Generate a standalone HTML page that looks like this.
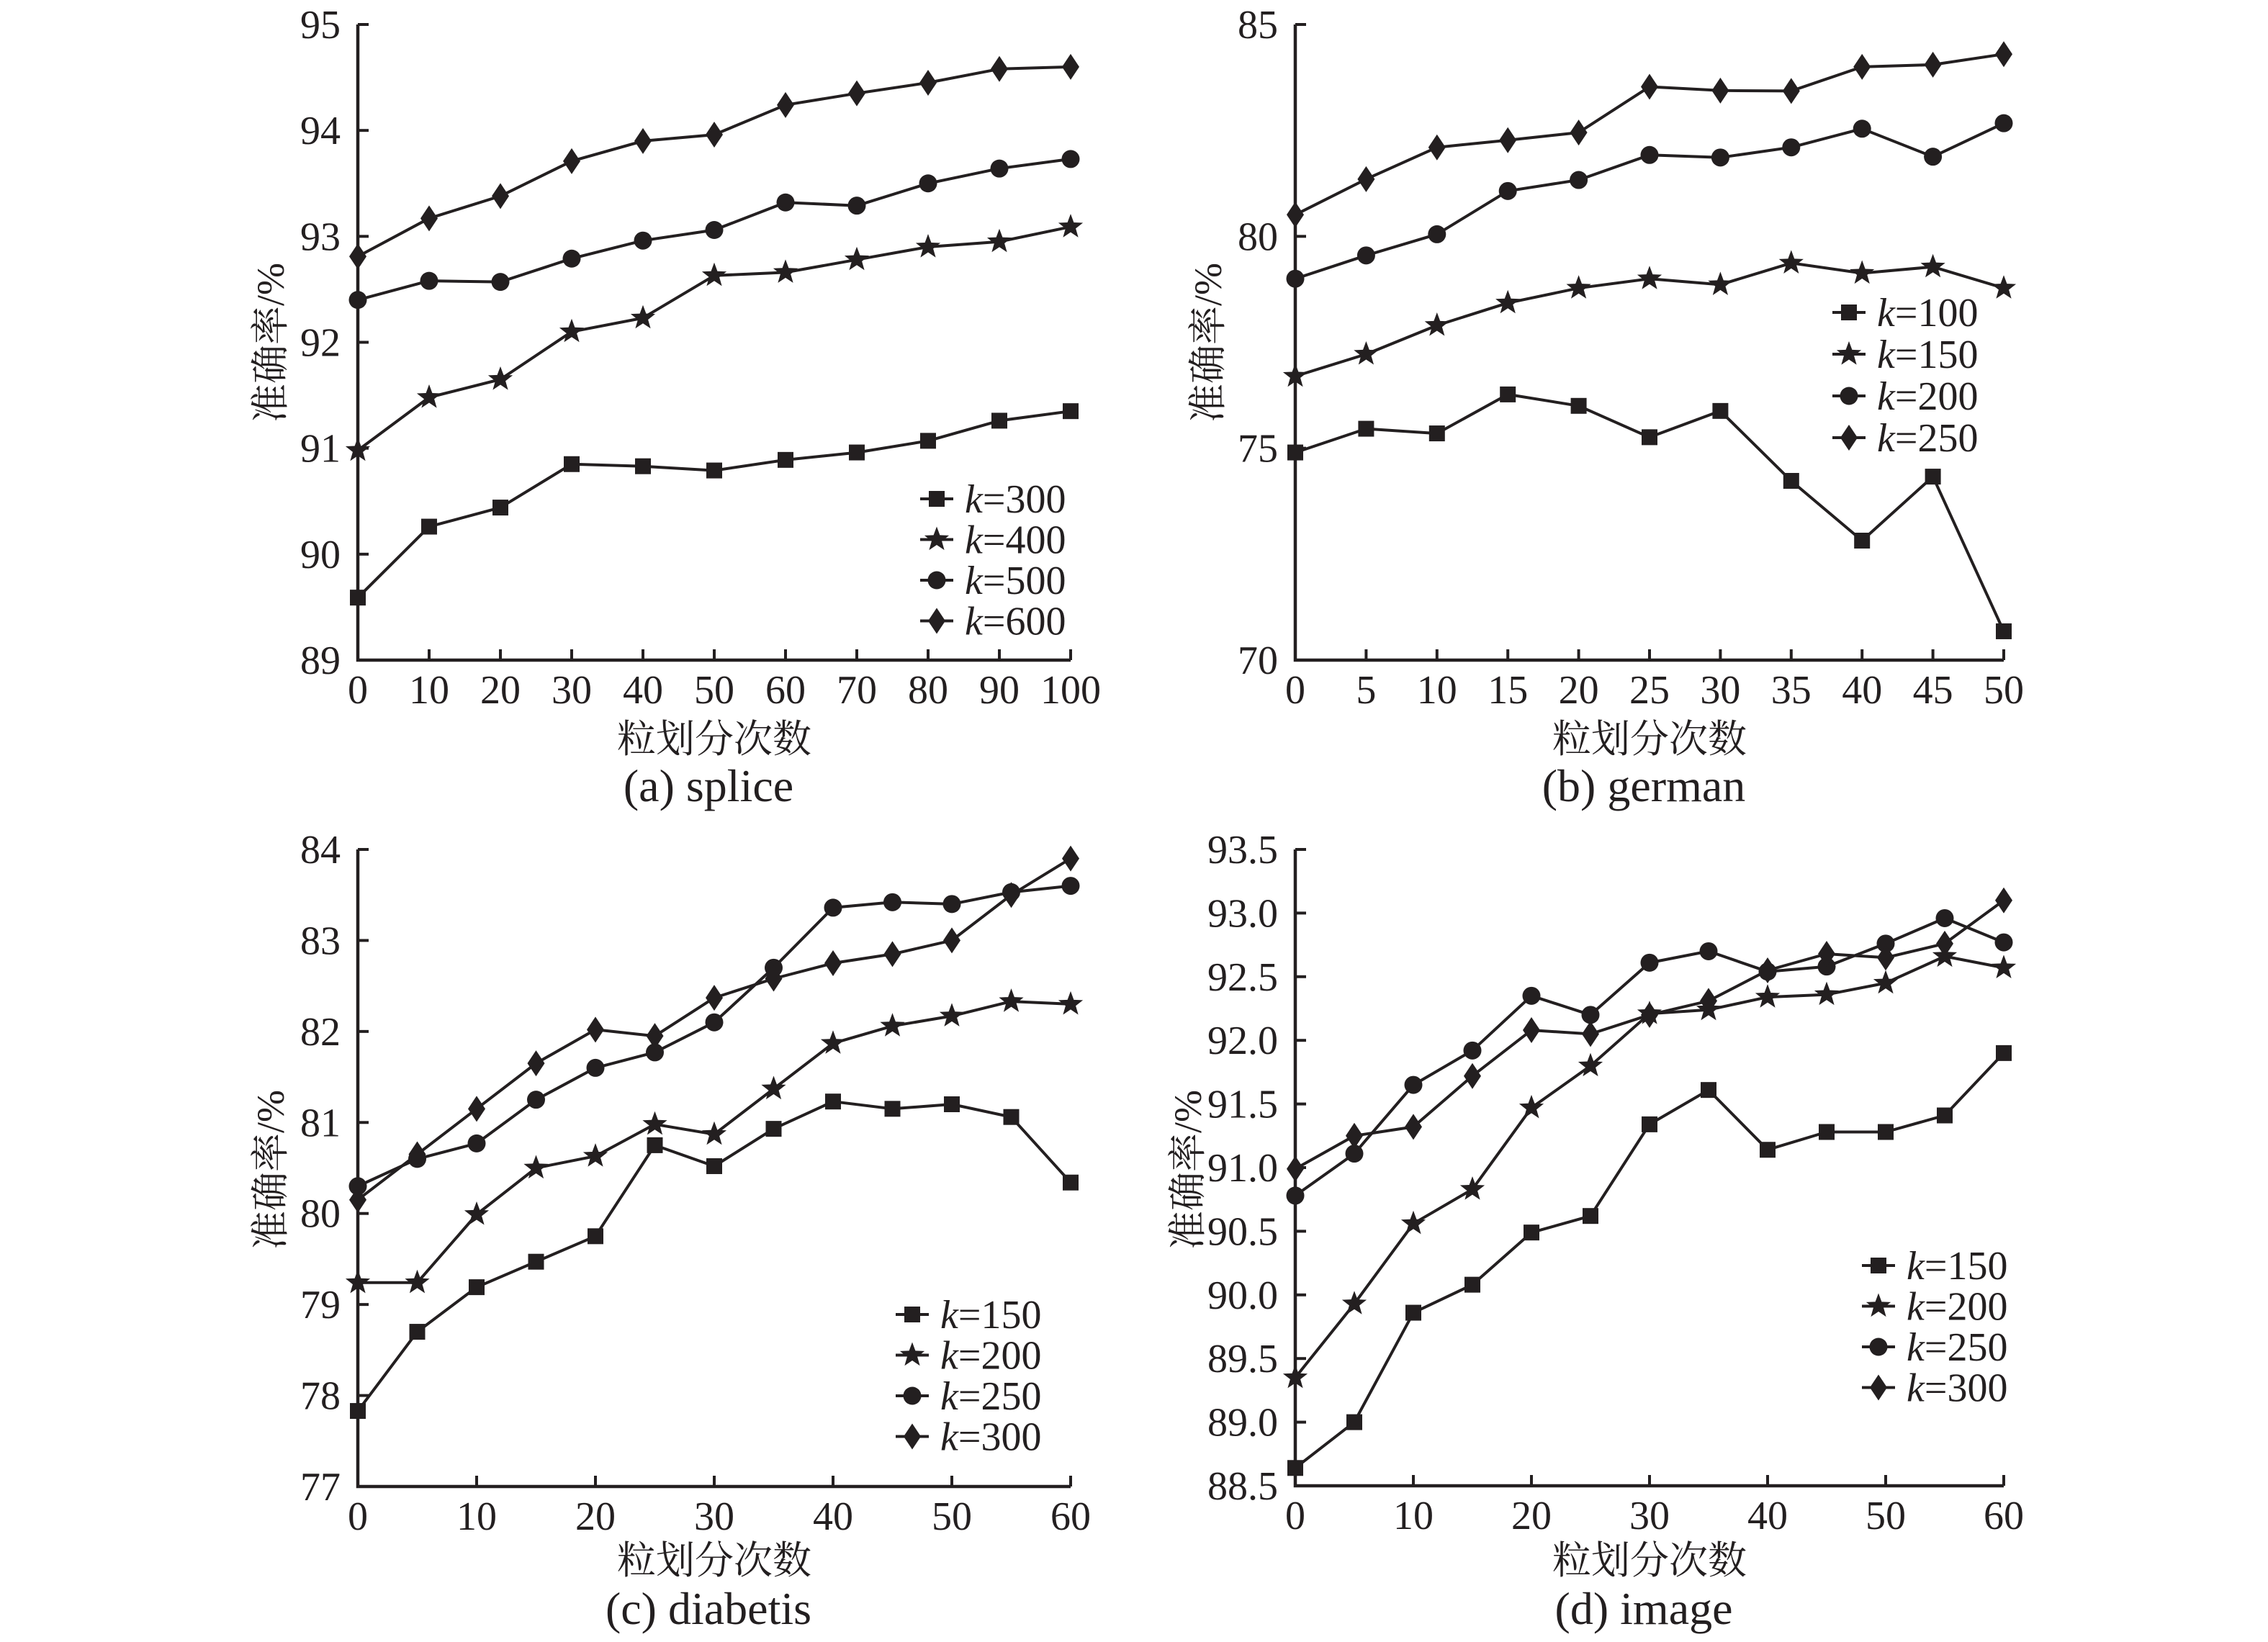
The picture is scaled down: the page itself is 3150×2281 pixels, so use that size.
<!DOCTYPE html>
<html><head><meta charset="utf-8">
<style>
html,body{margin:0;padding:0;background:#fff;}
svg{display:block;}
text{fill:#231f20;}
</style></head>
<body>
<svg id="fig" xmlns="http://www.w3.org/2000/svg" width="3150" height="2281" viewBox="0 0 3150 2281"></svg>
<script>
// ---- panel (a) splice ----
const aX = [0,10,20,30,40,50,60,70,80,90,100];
const aK300 = [89.59,90.26,90.44,90.85,90.83,90.79,90.89,90.96,91.07,91.26,91.35];
const aK400 = [90.98,91.48,91.65,92.10,92.23,92.63,92.66,92.78,92.90,92.95,93.09];
const aK500 = [92.40,92.58,92.57,92.79,92.96,93.06,93.32,93.29,93.50,93.64,93.73];
const aK600 = [92.81,93.17,93.38,93.71,93.90,93.96,94.24,94.35,94.45,94.58,94.60];
const aYTicks = ["89","90","91","92","93","94","95"];
const aXTicks = ["0","10","20","30","40","50","60","70","80","90","100"];
const aLegend = ["300","400","500","600"];
// ---- panel (b) german ----
const bX = [0,5,10,15,20,25,30,35,40,45,50];
const bK100 = [74.90,75.46,75.35,76.27,76.00,75.26,75.88,74.23,72.82,74.33,70.68];
const bK150 = [76.70,77.22,77.90,78.43,78.78,79.00,78.86,79.37,79.13,79.28,78.78];
const bK200 = [79.00,79.55,80.05,81.07,81.33,81.92,81.86,82.10,82.54,81.88,82.67];
const bK250 = [80.51,81.35,82.10,82.27,82.45,83.53,83.44,83.43,84.00,84.05,84.30];
const bYTicks = ["70","75","80","85"];
const bXTicks = ["0","5","10","15","20","25","30","35","40","45","50"];
const bLegend = ["100","150","200","250"];
// ---- panel (c) diabetis ----
const cX = [0,5,10,15,20,25,30,35,40,45,50,55,60];
const cK150 = [77.83,78.70,79.19,79.47,79.75,80.75,80.52,80.93,81.23,81.15,81.20,81.06,80.34];
const cK200 = [79.24,79.24,79.99,80.50,80.63,80.98,80.87,81.37,81.87,82.06,82.17,82.33,82.30];
const cK250 = [80.30,80.60,80.77,81.25,81.60,81.77,82.10,82.70,83.36,83.42,83.40,83.53,83.60];
const cK300 = [80.15,80.65,81.15,81.65,82.02,81.95,82.37,82.58,82.75,82.85,83.00,83.50,83.90];
const cYTicks = ["77","78","79","80","81","82","83","84"];
const cXTicks = ["0","10","20","30","40","50","60"];
const cLegend = ["150","200","250","300"];
// ---- panel (d) image ----
const dX = [0,5,10,15,20,25,30,35,40,45,50,55,60];
const dK150 = [88.64,89.00,89.86,90.08,90.49,90.62,91.34,91.61,91.14,91.28,91.28,91.41,91.90];
const dK200 = [89.35,89.93,90.56,90.83,91.47,91.80,92.21,92.24,92.34,92.36,92.45,92.66,92.57];
const dK250 = [90.78,91.11,91.65,91.92,92.35,92.20,92.61,92.70,92.54,92.58,92.76,92.96,92.77];
const dK300 = [90.99,91.25,91.32,91.72,92.08,92.05,92.20,92.31,92.55,92.68,92.65,92.76,93.10];
const dYTicks = ["88.5","89.0","89.5","90.0","90.5","91.0","91.5","92.0","92.5","93.0","93.5"];
const dXTicks = ["0","10","20","30","40","50","60"];
const dLegend = ["150","200","250","300"];

const NS = "http://www.w3.org/2000/svg";
const svg = document.getElementById('fig');
const INK = "#231f20";
const SERIF = '"Liberation Serif", "Noto Serif CJK SC", serif';
const CJK = '"Liberation Serif", "Noto Serif CJK SC", "Noto Sans CJK SC", serif';

function mk(tag, attrs, parent) {
  const e = document.createElementNS(NS, tag);
  for (const k in attrs) e.setAttribute(k, attrs[k]);
  (parent || svg).appendChild(e);
  return e;
}

function marker(g, type, x, y) {
  let m;
  if (type === 'square') {
    m = mk('rect', {x: x-11, y: y-11, width: 22, height: 22, fill: INK}, g);
  } else if (type === 'circle') {
    m = mk('circle', {cx: x, cy: y, r: 12.5, fill: INK}, g);
  } else if (type === 'diamond') {
    m = mk('polygon', {points: `${x},${y-18} ${x+12},${y} ${x},${y+18} ${x-12},${y}`, fill: INK}, g);
  } else {
    const pts = [];
    for (let i = 0; i < 10; i++) {
      const r = i % 2 === 0 ? 18 : 7.5;
      const a = -Math.PI/2 + i*Math.PI/5;
      pts.push((x + r*Math.cos(a)).toFixed(1) + ',' + (y + r*Math.sin(a)).toFixed(1));
    }
    m = mk('polygon', {points: pts.join(' '), fill: INK}, g);
  }
  
  
}

function panel(cfg) {
  const g = mk('g', {});
  
  
  const {x0, x1, y0, y1, xmin, xmax, ymin, ymax} = cfg;
  const sx = v => x0 + (v - xmin) / (xmax - xmin) * (x1 - x0);
  const sy = v => y0 - (v - ymin) / (ymax - ymin) * (y0 - y1);
  const ax = mk('path', {d: `M${x0},${y1} V${y0} H${x1}`, fill: 'none', stroke: INK, 'stroke-width': 4.5}, g);
  
  
  cfg.yTicks.forEach(t => {
    const y = sy(parseFloat(t));
    const tk = mk('line', {x1: x0, x2: x0+15, y1: y, y2: y, stroke: INK, 'stroke-width': 4}, g);
    
    
    const tx = mk('text', {x: x0-24, y: y+19, 'text-anchor': 'end', 'font-family': SERIF, 'font-size': 56}, g);
    tx.textContent = t;
    
    
  });
  cfg.xTicks.forEach(t => {
    const x = sx(parseFloat(t));
    const tk = mk('line', {x1: x, x2: x, y1: y0, y2: y0-15, stroke: INK, 'stroke-width': 4}, g);
    
    
    const tx = mk('text', {x: x, y: y0+60, 'text-anchor': 'middle', 'font-family': SERIF, 'font-size': 56}, g);
    tx.textContent = t;
    
    
  });
  const types = ['square','star','circle','diamond'];
  cfg.series.forEach((vals, si) => {
    const sg = mk('g', {}, g);
    
    
    const d = vals.map((v, i) => (i ? 'L' : 'M') + sx(cfg.xs[i]).toFixed(1) + ',' + sy(v).toFixed(1)).join(' ');
    const ln = mk('path', {d: d, fill: 'none', stroke: INK, 'stroke-width': 4, 'stroke-linejoin': 'round'}, sg);
    
    
    vals.forEach((v, i) => marker(sg, types[si], sx(cfg.xs[i]), sy(v)));
  });
  const lg = mk('g', {}, g);
  
  
  cfg.legend.forEach((lab, i) => {
    const y = cfg.legY + i * cfg.legDy;
    const eg = mk('g', {}, lg);
    
    
    mk('line', {x1: cfg.legX-23, x2: cfg.legX+23, y1: y, y2: y, stroke: INK, 'stroke-width': 4}, eg);
    marker(eg, types[i], cfg.legX, y);
    const tx = mk('text', {x: cfg.legX+39, y: y+19, 'font-family': SERIF, 'font-size': 56}, eg);
    const k = mk('tspan', {'font-style': 'italic'}, tx);
    k.textContent = 'k';
    const rest = mk('tspan', {}, tx);
    rest.textContent = '=' + lab;
  });
  const cx = (x0 + x1) / 2;
  const xt = mk('text', {x: cx, y: cfg.xTitleY, 'text-anchor': 'middle', 'font-family': CJK, 'font-size': 54}, g);
  xt.textContent = '粒划分次数';
  
  
  const ycy = cfg.yTitleCY;
  const yt = mk('text', {x: cfg.yTitleX, y: ycy, 'text-anchor': 'middle', 'font-family': CJK, 'font-size': 54,
    transform: `rotate(-90 ${cfg.yTitleX} ${ycy})`}, g);
  yt.textContent = '准确率/%';
  
  
  const cap = mk('text', {x: cx - 8, y: cfg.capY, 'text-anchor': 'middle', 'font-family': SERIF, 'font-size': 64}, g);
  cap.textContent = cfg.caption;
  
  
}

panel({name: 'chart-splice', x0: 497, x1: 1487, y0: 917, y1: 34, xmin: 0, xmax: 100, ymin: 89, ymax: 95,
  xs: aX, series: [aK300, aK400, aK500, aK600], yTicks: aYTicks, xTicks: aXTicks, legend: aLegend,
  legX: 1301, legY: 693, legDy: 56.5, xTitleY: 1045, capY: 1113, yTitleX: 394, yTitleCY: 476, caption: '(a) splice'});
panel({name: 'chart-german', x0: 1799, x1: 2783, y0: 917, y1: 34, xmin: 0, xmax: 50, ymin: 70, ymax: 85,
  xs: bX, series: [bK100, bK150, bK200, bK250], yTicks: bYTicks, xTicks: bXTicks, legend: bLegend,
  legX: 2568, legY: 434, legDy: 58, xTitleY: 1045, capY: 1113, yTitleX: 1696, yTitleCY: 476, caption: '(b) german'});
panel({name: 'chart-diabetis', x0: 497, x1: 1487, y0: 2065, y1: 1180, xmin: 0, xmax: 60, ymin: 77, ymax: 84,
  xs: cX, series: [cK150, cK200, cK250, cK300], yTicks: cYTicks, xTicks: cXTicks, legend: cLegend,
  legX: 1267, legY: 1826, legDy: 56.5, xTitleY: 2186, capY: 2256, yTitleX: 394, yTitleCY: 1625, caption: '(c) diabetis'});
panel({name: 'chart-image', x0: 1799, x1: 2783, y0: 2064, y1: 1180, xmin: 0, xmax: 60, ymin: 88.5, ymax: 93.5,
  xs: dX, series: [dK150, dK200, dK250, dK300], yTicks: dYTicks, xTicks: dXTicks, legend: dLegend,
  legX: 2609, legY: 1758, legDy: 56.5, xTitleY: 2186, capY: 2256, yTitleX: 1668, yTitleCY: 1625, caption: '(d) image'});
</script>
</body></html>
